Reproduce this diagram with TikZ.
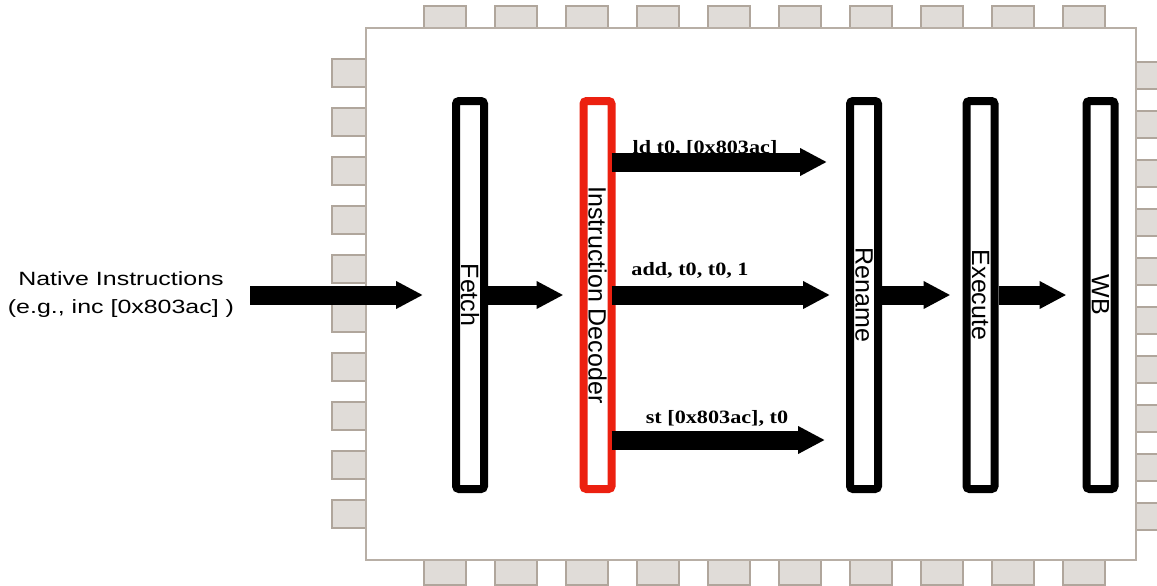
\documentclass[tikz,border=0pt]{standalone}
\usepackage{fontspec}
\setmainfont{Liberation Serif}
\newfontfamily\stagefont{Liberation Sans}
\newfontfamily\notefont[FakeStretch=1.3]{Liberation Sans}
\newfontfamily\opfont[FakeStretch=1.18]{Liberation Serif}
\usetikzlibrary{arrows.meta}
\definecolor{padfill}{RGB}{224,220,216}
\definecolor{padline}{RGB}{176,166,156}
\definecolor{chipline}{RGB}{184,175,166}
\definecolor{decred}{RGB}{236,32,16}
\tikzset{
  padbox/.style={fill=padfill,draw=padline,line width=1.5pt},
  stage/.style={draw,line width=8pt,rounded corners=3pt,minimum width=28pt,minimum height=388pt,inner sep=0pt,font=\stagefont\fontsize{25}{30}\selectfont},
  flow/.style={line width=19pt,-{Triangle[width=26pt,length=27pt]},shorten >=16pt},
  op/.style={anchor=base,inner sep=0pt,font=\opfont\bfseries\fontsize{18.8}{20}\selectfont}
}
\begin{document}
\begin{tikzpicture}[x=1pt,y=-1pt]
\useasboundingbox (0,0) rectangle (1157,586);
\foreach \i in {0,...,9} {
  \draw[padbox] ({424+71*\i},6) rectangle +(42,22);
  \draw[padbox] ({424+71*\i},560) rectangle +(42,25);
  \draw[padbox] (332,{59+49*\i}) rectangle +(34,28);
  \draw[padbox] (1136,{62+49*\i}) rectangle +(26,27);
}
\draw[chipline,line width=2pt,fill=white] (366,28) rectangle (1136,560);
\node[stage] (fetch) at (470,295) {\rotatebox{-90}{Fetch}};
\node[stage,draw=decred] (decoder) at (597.5,295) {\rotatebox{-90}{Instruction Decoder}};
\node[stage] (rename) at (864,295) {\rotatebox{-90}{Rename}};
\node[stage] (execute) at (980.5,295) {\rotatebox{-90}{Execute}};
\node[stage] (wb) at (1100.5,295) {\rotatebox{-90}{WB}};
\node[font=\notefont\fontsize{19.2}{28}\selectfont,align=center,inner sep=0pt] (native) at (121,295) {Native Instructions\\(e.g., inc [0x803ac] )};
\node[op] (ldop) at (705,153.5) {ld t0, [0x803ac]};
\node[op] (addop) at (690,275) {add, t0, t0, 1};
\node[op] (stop) at (717,423) {st [0x803ac], t0};
\draw[flow,shorten <=16pt,shorten >=29pt] (native.east) -- (fetch.west);
\draw[flow] (fetch.east) -- (decoder.west);
\draw[flow,shorten <=-4pt,shorten >=19pt] ([yshift=133pt]decoder.east) -- ([yshift=133pt]rename.west);
\draw[flow,shorten <=-4pt] (decoder.east) -- (rename.west);
\draw[flow,shorten <=-4pt,shorten >=21pt] ([yshift=-145pt]decoder.east) -- ([yshift=-145pt]rename.west);
\draw[flow,shorten >=12pt] (rename.east) -- (execute.west);
\draw[flow] (execute.east) -- (wb.west);
\end{tikzpicture}
\end{document}
